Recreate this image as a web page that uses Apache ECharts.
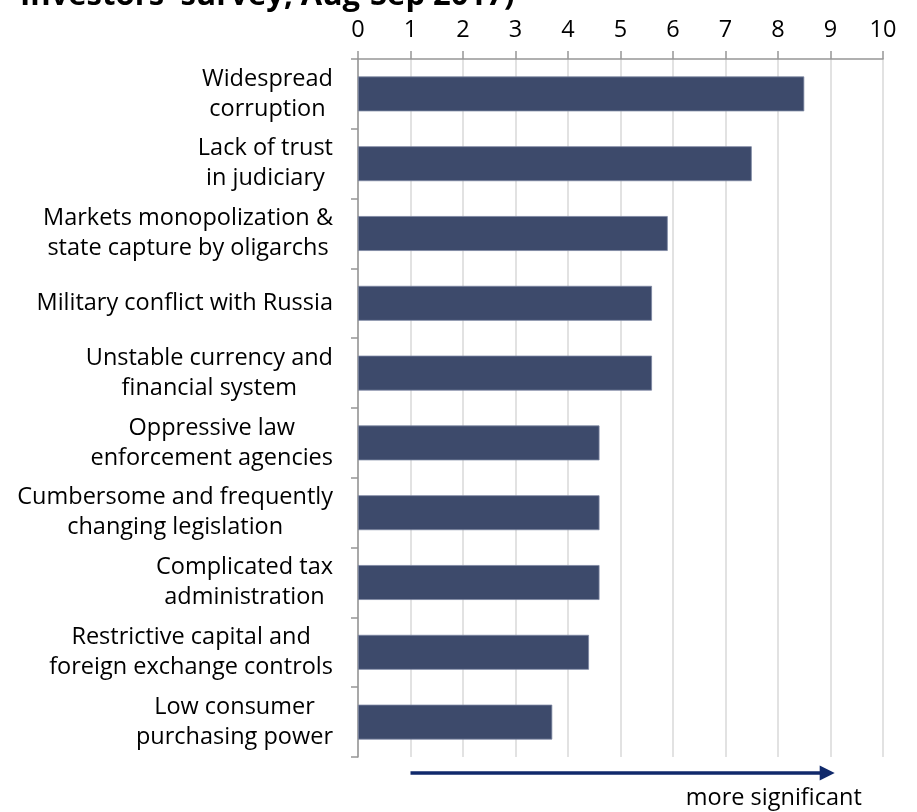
<!DOCTYPE html>
<html>
<head>
<meta charset="utf-8">
<script src="https://cdn.jsdelivr.net/npm/echarts@6/dist/echarts.min.js"></script>
<style>
html,body{margin:0;padding:0;background:#fff;}
#chart{width:917px;height:812px;}
</style>
</head>
<body>
<div id="chart"></div>
<script>
const titleText = "Investors' survey, Aug-Sep 2017)";
const categories = [
  'Widespread\ncorruption',
  'Lack of trust\nin judiciary',
  'Markets monopolization &\nstate capture by oligarchs',
  'Military conflict with Russia',
  'Unstable currency and\nfinancial system',
  'Oppressive law\nenforcement agencies',
  'Cumbersome and frequently\nchanging legislation',
  'Complicated tax\nadministration',
  'Restrictive capital and\nforeign exchange controls',
  'Low consumer\npurchasing power'
];
const values = [8.5, 7.5, 5.9, 5.6, 5.6, 4.6, 4.6, 4.6, 4.4, 3.7];
const xMin = 0, xMax = 10, xStep = 1;
const arrowFrom = 1, arrowTo = 9.08;
const arrowLabel = 'more significant';
const arrowLabelAt = 7.92;

const FONT = '"Open Sans", "DejaVu Sans", sans-serif';
const chart = echarts.init(document.getElementById('chart'));
chart.setOption({
  animation: false,
  backgroundColor: '#ffffff',
  grid: { left: 358, right: 34, top: 59, bottom: 55, containLabel: false },
  xAxis: {
    type: 'value',
    position: 'top',
    min: xMin, max: xMax, interval: xStep,
    axisLine: { show: true, lineStyle: { color: '#969696', width: 1.5 } },
    axisTick: { show: true, inside: false, length: 8, lineStyle: { color: '#969696', width: 1.5 } },
    axisLabel: { margin: 17, color: '#000', fontSize: 23.5, fontFamily: FONT },
    splitLine: { show: true, lineStyle: { color: '#d9d9d9', width: 1.5 } }
  },
  yAxis: {
    type: 'category',
    data: categories,
    inverse: true,
    axisLine: { show: true, lineStyle: { color: '#969696', width: 1.5 } },
    axisTick: { show: true, inside: false, length: 7, lineStyle: { color: '#969696', width: 1.5 } },
    axisLabel: {
      margin: 25,
      align: 'right',
      formatter: function (v) {
        return v.split('\n').map(function (s) { return '{c|' + s + '}'; }).join('\n');
      },
      rich: {
        c: { align: 'center', fontSize: 23.5, lineHeight: 30, fontFamily: FONT, color: '#000' }
      }
    },
    splitLine: { show: false }
  },
  series: [{
    type: 'bar',
    data: values,
    barWidth: '50%',
    itemStyle: { color: '#3d4a6b', borderColor: '#7c86a2', borderWidth: 0.8 }
  }]
});

const ax = function (v) { return chart.convertToPixel({ xAxisIndex: 0 }, v); };
const xa = ax(arrowFrom), xb = ax(arrowTo);
const ay = 773;
const headLen = 15, headHalf = 7.5;
chart.setOption({
  graphic: [
    {
      type: 'text', x: 20, y: -4,
      style: { text: titleText, font: 'bold 31px ' + FONT, fill: '#000', verticalAlign: 'middle' }
    },
    {
      type: 'line',
      shape: { x1: xa, y1: ay, x2: xb - headLen + 1, y2: ay },
      style: { stroke: '#10296b', lineWidth: 3.5 }
    },
    {
      type: 'polygon',
      shape: { points: [[xb - headLen, ay - headHalf], [xb, ay], [xb - headLen, ay + headHalf]] },
      style: { fill: '#10296b' }
    },
    {
      type: 'text', x: ax(arrowLabelAt), y: 798,
      style: { text: arrowLabel, font: '23.5px ' + FONT, fill: '#000', align: 'center', verticalAlign: 'middle' }
    }
  ]
});
</script>
</body>
</html>
